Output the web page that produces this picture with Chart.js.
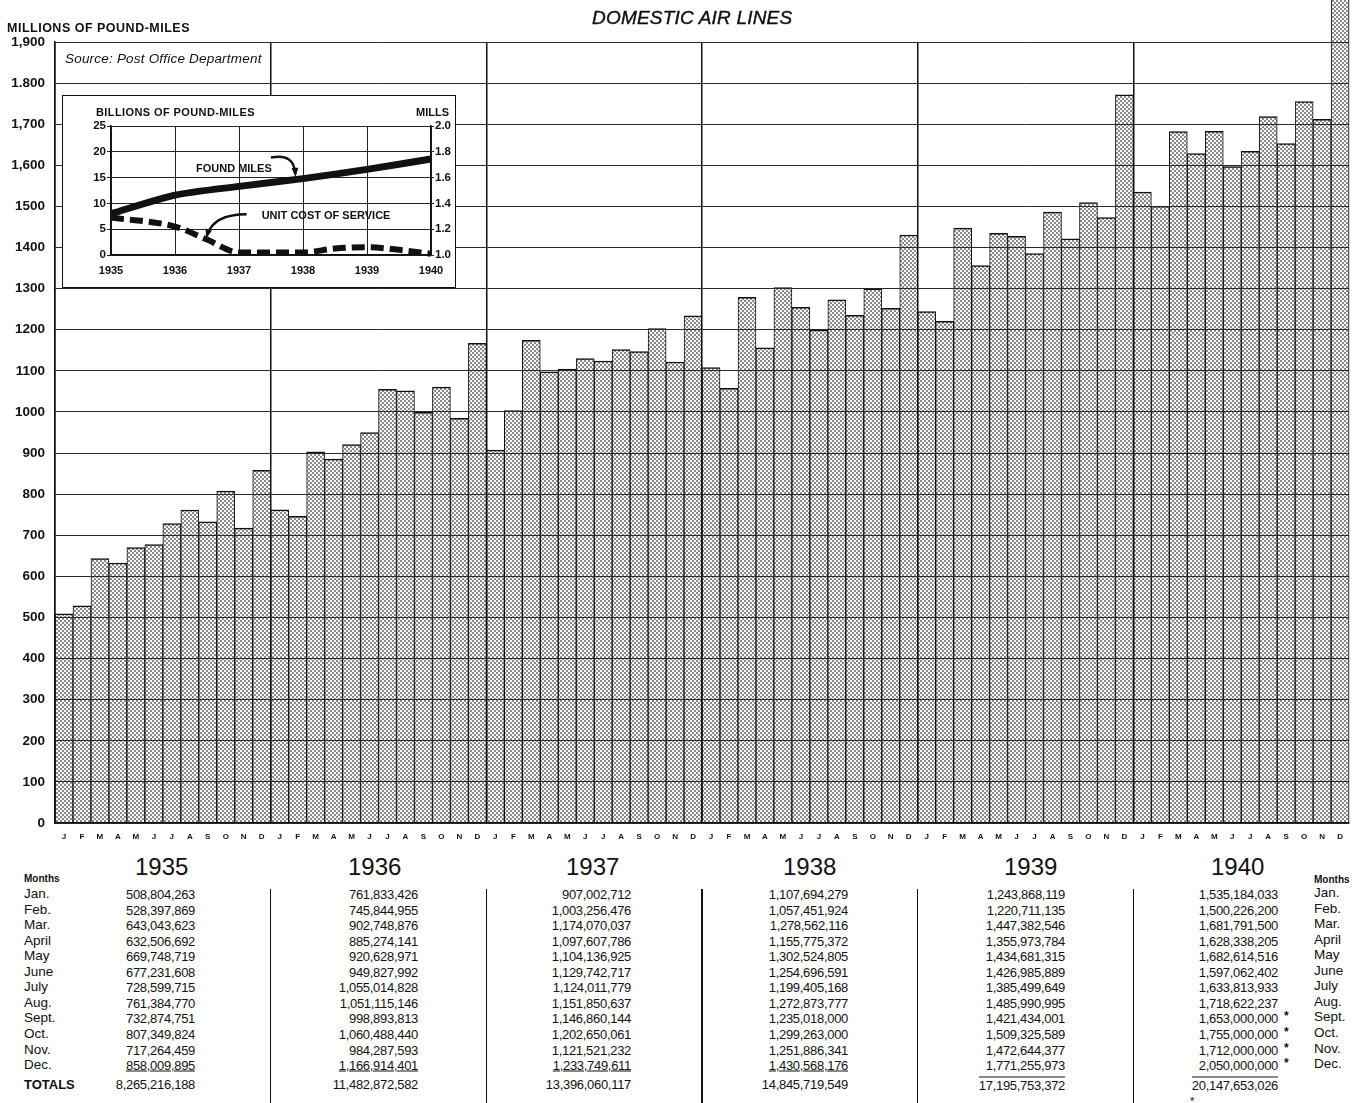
<!DOCTYPE html>
<html>
<head>
<meta charset="utf-8">
<script src="https://cdn.jsdelivr.net/npm/chart.js@4.4.0/dist/chart.umd.min.js"></script>
<style>
  body { margin: 0; background: #fff; width: 1352px; height: 1103px; position: relative; overflow: hidden;
         font-family: "Liberation Sans", Arial, sans-serif; color: #111; }
  .t { position: absolute; white-space: nowrap; line-height: 1; transform: translateY(-50%); }
  .vline { position: absolute; width: 1.5px; background: #111; }
  #insetBox { position: absolute; left: 62px; top: 95px; width: 392px; height: 191px;
              border: 1.5px solid #111; background: #fff; }
</style>
</head>
<body>
<canvas id="main" width="1352" height="850" style="position:absolute;left:0;top:0"></canvas>
<div id="insetBox"><canvas id="inset" width="392" height="191"></canvas></div>
<div id="texts"></div>
<script>
// monthly pound-miles, from the table under the chart
var years = ['1935', '1936', '1937', '1938', '1939', '1940'];
var monthLetters = ['J', 'F', 'M', 'A', 'M', 'J', 'J', 'A', 'S', 'O', 'N', 'D'];
var monthNames = ['Jan.', 'Feb.', 'Mar.', 'April', 'May', 'June', 'July', 'Aug.', 'Sept.', 'Oct.', 'Nov.', 'Dec.'];
var yTickLabels = ['0', '100', '200', '300', '400', '500', '600', '700', '800', '900', '1000', '1100', '1200',
                   '1300', '1400', '1500', '1,600', '1,700', '1.800', '1,900'];

var pm1935 = [508804263, 528397869, 643043623, 632506692, 669748719, 677231608, 728599715, 761384770, 732874751, 807349824, 717264459, 858009895];
var pm1936 = [761833426, 745844955, 902748876, 885274141, 920628971, 949827992, 1055014828, 1051115146, 998893813, 1060488440, 984287593, 1166914401];
var pm1937 = [907002712, 1003256476, 1174070037, 1097607786, 1104136925, 1129742717, 1124011779, 1151850637, 1146860144, 1202650061, 1121521232, 1233749611];
var pm1938 = [1107694279, 1057451924, 1278562116, 1155775372, 1302524805, 1254696591, 1199405168, 1272873777, 1235018000, 1299263000, 1251886341, 1430568176];
var pm1939 = [1243868119, 1220711135, 1447382546, 1355973784, 1434681315, 1426985889, 1385499649, 1485990995, 1421434001, 1509325589, 1472644377, 1771255973];
var pm1940 = [1535184033, 1500226200, 1681791500, 1628338205, 1682614516, 1597062402, 1633813933, 1718622237, 1653000000, 1755000000, 1712000000, 2050000000];
var yearTotals = [8265216188, 11482872582, 13396060117, 14845719549, 17195753372, 20147653026];
var estimated1940 = [false, false, false, false, false, false, false, false, true, true, true, true];

// inset chart
var insetYears = [1935, 1936, 1937, 1938, 1939, 1940];
var foundMiles = [8.0, 11.6, 13.3, 14.8, 16.6, 18.6];
var costYears = [1935, 1936, 1936.5, 1937, 1938, 1938.5, 1939, 1939.5, 1940];
var unitCost = [1.29, 1.22, 1.12, 1.02, 1.02, 1.05, 1.06, 1.04, 1.01];

// table layout
var colRight = [195, 418, 631, 848, 1065, 1278];
var yearCenterX = [162, 375, 593, 810, 1031, 1238];

var allYears = [pm1935, pm1936, pm1937, pm1938, pm1939, pm1940];
var labels = [];
var values = [];
allYears.forEach(function (arr) {
    arr.forEach(function (v, m) {
        labels.push(monthLetters[m]);
        values.push(v / 1e6);
    });
});

function fmt(n) {
    return String(n).replace(/\B(?=(\d{3})+(?!\d))/g, ',');
}

// stippled fill
function makePattern() {
    var c = document.createElement('canvas');
    c.width = 4; c.height = 4;
    var g = c.getContext('2d');
    g.fillStyle = '#f6f6f6';
    g.fillRect(0, 0, 4, 4);
    g.fillStyle = '#8a8a8a';
    g.fillRect(0, 0, 2, 2);
    g.fillRect(2, 2, 2, 2);
    return g.createPattern(c, 'repeat');
}

var mainChart = new Chart(document.getElementById('main'), {
    type: 'bar',
    data: {
        labels: labels,
        datasets: [{
            data: values,
            backgroundColor: makePattern(),
            borderColor: '#111',
            borderWidth: { top: 1.5, left: 1, right: 1, bottom: 0 },
            barPercentage: 1,
            categoryPercentage: 1,
            clip: false
        }]
    },
    options: {
        responsive: false,
        animation: false,
        layout: { padding: { top: 42, right: 2, left: 0, bottom: 0 } },
        plugins: { legend: { display: false }, tooltip: { enabled: false } },
        scales: {
            x: {
                offset: true,
                grid: {
                    offset: true,
                    z: 1,
                    drawTicks: false,
                    lineWidth: 1.5,
                    color: function (ctx) {
                        return (ctx.index !== undefined && ctx.index % 12 === 0) ? '#111' : 'rgba(0,0,0,0)';
                    }
                },
                border: { color: '#111', width: 1.5, z: 1 },
                ticks: { font: { size: 8, weight: 'bold' }, color: '#111', padding: 9, autoSkip: false, maxRotation: 0 },
                afterFit: function (s) { s.height = 27; }
            },
            y: {
                min: 0,
                max: 1900,
                ticks: {
                    stepSize: 100,
                    font: { size: 13.5, weight: 'bold' },
                    color: '#111',
                    padding: 10,
                    callback: function (v) { return yTickLabels[Math.round(v / 100)]; }
                },
                grid: { z: 1, drawTicks: false, color: '#2a2a2a', lineWidth: 1 },
                border: { color: '#111', width: 1.5, z: 1 },
                afterFit: function (s) { s.width = 55; }
            }
        }
    }
});

// arrows and notes in the inset
var insetNotes = {
    id: 'insetNotes',
    afterDatasetsDraw: function (chart) {
        var c = chart.ctx, xs = chart.scales.x, ys = chart.scales.y;
        function px(x) { return xs.getPixelForValue(x); }
        function py(y) { return ys.getPixelForValue(y); }
        c.save();
        c.fillStyle = '#111';
        c.font = 'bold 11px "Liberation Sans", Arial, sans-serif';
        c.textAlign = 'center';
        c.textBaseline = 'middle';
        c.fillText('FOUND MILES', px(1936.92), py(16.6));
        c.fillText('UNIT COST OF SERVICE', px(1938.36), py(7.5));
        c.strokeStyle = '#111';
        c.lineWidth = 2.5;
        function arrow(x0, y0, cx, cy, x1, y1) {
            c.beginPath();
            c.moveTo(px(x0), py(y0));
            c.quadraticCurveTo(px(cx), py(cy), px(x1), py(y1));
            c.stroke();
            var ang = Math.atan2(py(y1) - py(cy), px(x1) - px(cx));
            var tx = px(x1), ty = py(y1);
            c.beginPath();
            c.moveTo(tx + 3 * Math.cos(ang), ty + 3 * Math.sin(ang));
            c.lineTo(tx - 7 * Math.cos(ang - 0.5), ty - 7 * Math.sin(ang - 0.5));
            c.lineTo(tx - 7 * Math.cos(ang + 0.5), ty - 7 * Math.sin(ang + 0.5));
            c.closePath();
            c.fill();
        }
        arrow(1937.5, 18.9, 1937.86, 19.8, 1937.88, 15.7);
        arrow(1937.12, 7.9, 1936.6, 7.9, 1936.5, 3.8);
        c.restore();
    }
};

var insetChart = new Chart(document.getElementById('inset'), {
    type: 'line',
    data: {
        datasets: [{
            data: insetYears.map(function (y, i) { return { x: y, y: foundMiles[i] }; }),
            yAxisID: 'y',
            borderColor: '#111',
            borderWidth: 7,
            pointRadius: 0,
            tension: 0.25,
            clip: false
        }, {
            data: costYears.map(function (y, i) { return { x: y, y: unitCost[i] }; }),
            yAxisID: 'y1',
            borderColor: '#111',
            borderWidth: 6,
            borderDash: [13, 6],
            pointRadius: 0,
            cubicInterpolationMode: 'monotone',
            clip: false
        }]
    },
    options: {
        responsive: false,
        animation: false,
        layout: { padding: { top: 30, right: 0, left: 0, bottom: 0 } },
        plugins: { legend: { display: false }, tooltip: { enabled: false } },
        scales: {
            x: {
                type: 'linear',
                min: 1935,
                max: 1940,
                ticks: { stepSize: 1, font: { size: 11, weight: 'bold' }, color: '#111', padding: 9,
                         callback: function (v) { return String(v); } },
                grid: { drawTicks: false, color: '#222', lineWidth: 1 },
                border: { color: '#111', width: 1.5 },
                afterFit: function (s) { s.height = 32; }
            },
            y: {
                position: 'left',
                min: 0,
                max: 25,
                ticks: { stepSize: 5, font: { size: 11.5, weight: 'bold' }, color: '#111', padding: 1 },
                grid: { tickLength: 4, color: '#222', lineWidth: 1 },
                border: { color: '#111', width: 1.5 },
                afterFit: function (s) { s.width = 48; }
            },
            y1: {
                position: 'right',
                min: 1.0,
                max: 2.0,
                ticks: { stepSize: 0.2, font: { size: 11.5, weight: 'bold' }, color: '#111', padding: 1,
                         callback: function (v) { return v.toFixed(1); } },
                grid: { drawOnChartArea: false, tickLength: 3, color: '#222' },
                border: { color: '#111', width: 1.5 },
                afterFit: function (s) { s.width = 24; }
            }
        }
    },
    plugins: [insetNotes]
});

// text around the chart and the table
var box = document.getElementById('texts');
function put(txt, x, y, css, right) {
    var d = document.createElement('div');
    d.className = 't';
    d.textContent = txt;
    if (right) d.style.right = (1352 - x) + 'px'; else d.style.left = x + 'px';
    d.style.top = y + 'px';
    d.style.cssText += ';' + (css || '');
    box.appendChild(d);
    return d;
}

put('DOMESTIC AIR LINES', 592, 17, 'font-size:19px;font-style:italic;letter-spacing:0.2px;-webkit-text-stroke:0.4px #111;');
put('MILLIONS OF POUND-MILES', 7, 28, 'font-size:12.5px;font-weight:bold;letter-spacing:0.5px;');
put('Source: Post Office Department', 65, 59, 'font-size:13.5px;font-style:italic;letter-spacing:0.2px;');
put('BILLIONS OF POUND-MILES', 96, 112, 'font-size:11px;font-weight:bold;letter-spacing:0.4px;');
put('MILLS', 449, 112, 'font-size:11px;font-weight:bold;', true);

var rowY0 = 894, rowStep = 15.55, totalY = 1084;
var numCss = 'font-size:13px;letter-spacing:-0.3px;';
put('Months', 24, 879, 'font-size:10px;font-weight:bold;');
put('Months', 1314, 880, 'font-size:10px;font-weight:bold;');
monthNames.forEach(function (m, i) {
    put(m, 24, rowY0 + i * rowStep, 'font-size:13.5px;');
    put(m, 1314, rowY0 - 1 + i * rowStep, 'font-size:13.5px;');
});
put('TOTALS', 24, totalY, 'font-size:13px;font-weight:bold;');

years.forEach(function (yr, k) {
    put(yr, yearCenterX[k] - 27, 867, 'font-size:24px;');
    allYears[k].forEach(function (v, m) {
        var d = put(fmt(v), colRight[k], rowY0 + m * rowStep, numCss, true);
        if (m === 11 && k < 4) d.style.textDecoration = 'underline';
        if (k === 5 && estimated1940[m]) put('*', colRight[k] + 6, rowY0 + m * rowStep - 2, 'font-size:12px;font-weight:bold;');
    });
    var tot = put(fmt(yearTotals[k]), colRight[k], totalY, numCss, true);
    if (k >= 4) { tot.style.borderTop = '1.5px solid #111'; tot.style.paddingTop = '1px'; }
});
put('*', 1190, 1101, 'font-size:11px;');

// table column separators follow the year boundaries of the bars
var xs = mainChart.scales.x;
for (var k = 1; k < years.length; k++) {
    var bx = (xs.getPixelForTick(12 * k - 1) + xs.getPixelForTick(12 * k)) / 2;
    var v = document.createElement('div');
    v.className = 'vline';
    v.style.left = (bx - 0.75) + 'px';
    v.style.top = '889px';
    v.style.height = '214px';
    box.appendChild(v);
}
</script>
</body>
</html>
